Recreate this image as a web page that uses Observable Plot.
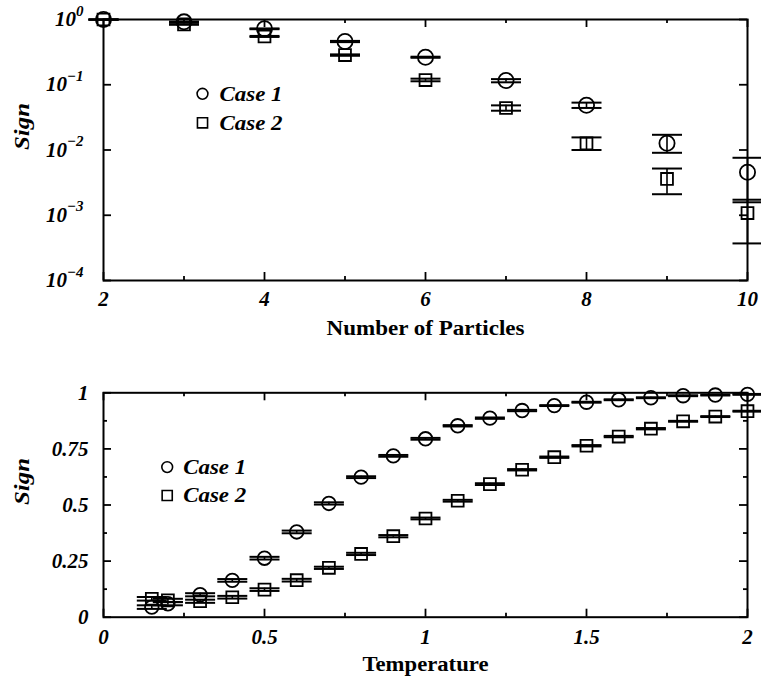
<!DOCTYPE html>
<html><head><meta charset="utf-8">
<script src="https://cdn.jsdelivr.net/npm/d3@7"></script>
<script src="https://cdn.jsdelivr.net/npm/@observablehq/plot@0.6"></script>
<style>
html,body{margin:0;padding:0;background:#fff;}
#wrap{width:761px;height:685px;overflow:hidden;background:#fff;}
#wrap svg{display:block;}
</style></head><body><div id="wrap"></div>
<script>
// ---------- Top chart data (Sign vs Number of Particles, log scale) ----------
const particles = [2, 3, 4, 5, 6, 7, 8, 9, 10];
const case1Sign = [1.0, 0.92, 0.72, 0.46, 0.264, 0.116, 0.0485, 0.0127, 0.00457];
const case1Lo   = [0.995, 0.91, 0.71, 0.45, 0.259, 0.109, 0.0441, 0.00906, 0.00158];
const case1Hi   = [1.0, 0.93, 0.73, 0.47, 0.269, 0.122, 0.0532, 0.0171, 0.0076];
const case2Sign = [1.0, 0.84, 0.55, 0.285, 0.118, 0.044, 0.0126, 0.0036, 0.00108];
const case2Lo   = [0.995, 0.83, 0.54, 0.278, 0.113, 0.040, 0.0100, 0.0021, 0.00037];
const case2Hi   = [1.0, 0.85, 0.56, 0.292, 0.124, 0.0483, 0.0156, 0.0052, 0.00173];
const topXTickLabels = [2, 4, 6, 8, 10];
const topXMinorTicks = [3, 5, 7, 9];
const topYTicks = [1e-4, 1e-3, 1e-2, 1e-1, 1];

// ---------- Bottom chart data (Sign vs Temperature) ----------
const temperature = [0.15, 0.2, 0.3, 0.4, 0.5, 0.6, 0.7, 0.8, 0.9, 1.0, 1.1, 1.2, 1.3, 1.4, 1.5, 1.6, 1.7, 1.8, 1.9, 2.0];
const tCase1Sign = [0.045, 0.06, 0.10, 0.164, 0.263, 0.38, 0.507, 0.624, 0.719, 0.795, 0.853, 0.887, 0.921, 0.943, 0.958, 0.969, 0.978, 0.987, 0.990, 0.993];
const tCase1Err  = [0.008, 0.007, 0.007, 0.006, 0.006, 0.006, 0.005, 0.004, 0.004, 0.004, 0.003, 0.003, 0.003, 0.002, 0.002, 0.002, 0.002, 0.002, 0.002, 0.002];
const tCase2Sign = [0.082, 0.075, 0.071, 0.089, 0.123, 0.165, 0.22, 0.282, 0.361, 0.44, 0.519, 0.593, 0.657, 0.713, 0.764, 0.805, 0.84, 0.873, 0.894, 0.918];
const tCase2Err  = [0.008, 0.007, 0.007, 0.006, 0.006, 0.006, 0.005, 0.005, 0.005, 0.004, 0.004, 0.004, 0.003, 0.003, 0.003, 0.003, 0.003, 0.002, 0.002, 0.002];
const botXTickLabels = [0, 0.5, 1, 1.5, 2];
const botXMinorTicks = [0.25, 0.75, 1.25, 1.75];
const botYTickLabels = [0, 0.25, 0.5, 0.75, 1];
const botYMinorTicks = [0.125, 0.375, 0.625, 0.875];

const seriesNames = ["Case 1", "Case 2"];

// ---------- helpers ----------
const W = 761;
const FONT = "'Liberation Serif', 'Times New Roman', serif";
const capSymbol = {draw(ctx) { ctx.moveTo(-15, 0); ctx.lineTo(15, 0); }};

function seriesMarks(rows, symbol, r) {
  return [
    Plot.ruleX(rows, {x: "x", y1: "lo", y2: "hi", stroke: "black", strokeWidth: 1.6}),
    Plot.dot(rows, {x: "x", y: "lo", symbol: capSymbol, stroke: "black", fill: "none", strokeWidth: 2}),
    Plot.dot(rows, {x: "x", y: "hi", symbol: capSymbol, stroke: "black", fill: "none", strokeWidth: 2}),
    Plot.dot(rows, {x: "x", y: "y", symbol, r, stroke: "black", fill: "none", strokeWidth: 1.8})
  ];
}

function frameTicks(FW, FH, xMajor, xMinor, yMajor, yMinor) {
  const L = 8, S = 4, sw = 1.8;
  const m = [];
  const addX = (arr, len) => {
    m.push(Plot.tickX(arr, {x: d => d, insetTop: FH - len, stroke: "black", strokeWidth: sw}));
    m.push(Plot.tickX(arr, {x: d => d, insetBottom: FH - len, stroke: "black", strokeWidth: sw}));
  };
  const addY = (arr, len) => {
    m.push(Plot.tickY(arr, {y: d => d, insetRight: FW - len, stroke: "black", strokeWidth: sw}));
    m.push(Plot.tickY(arr, {y: d => d, insetLeft: FW - len, stroke: "black", strokeWidth: sw}));
  };
  addX(xMajor, L); if (xMinor.length) addX(xMinor, S);
  addY(yMajor, L); if (yMinor.length) addY(yMinor, S);
  return m;
}

function legendMarks(circleDx, textDx, dy1, dy2) {
  return [
    Plot.dot([seriesNames[0]], {frameAnchor: "top-left", dx: circleDx, dy: dy1, symbol: "circle", r: 5.4, stroke: "black", fill: "none", strokeWidth: 1.6}),
    Plot.dot([seriesNames[1]], {frameAnchor: "top-left", dx: circleDx, dy: dy2, symbol: "square", r: 5.7, stroke: "black", fill: "none", strokeWidth: 1.6}),
    Plot.text([seriesNames[0]], {frameAnchor: "top-left", dx: textDx, dy: dy1, text: d => d, textAnchor: "start", lineAnchor: "middle", fontSize: 21, fontWeight: "bold", fontStyle: "italic"}),
    Plot.text([seriesNames[1]], {frameAnchor: "top-left", dx: textDx, dy: dy2, text: d => d, textAnchor: "start", lineAnchor: "middle", fontSize: 21, fontWeight: "bold", fontStyle: "italic"})
  ];
}

// stretch a few labels to the widths seen in the reference
const labelLengths = {"Number of Particles": 198, "Temperature": 126, "Case 1": 63, "Case 2": 63, "Sign": 47};
function stretchTexts(svg) {
  svg.querySelectorAll("text").forEach(t => {
    const s = t.textContent;
    if (labelLengths[s] !== undefined && t.children.length === 0) {
      t.setAttribute("textLength", labelLengths[s]);
      t.setAttribute("lengthAdjust", "spacingAndGlyphs");
    }
  });
}

const style = {fontFamily: FONT, fontSize: "21px", fontWeight: "bold", fontStyle: "italic", color: "black", background: "white"};

// ---------- top chart ----------
{
  const mL = 103, mR = 14, mT = 19, mB = 65, H = 345;
  const FW = W - mL - mR, FH = H - mT - mB;
  const rows1 = particles.map((n, i) => ({x: n, y: case1Sign[i], lo: case1Lo[i], hi: case1Hi[i]}));
  const rows2 = particles.map((n, i) => ({x: n, y: case2Sign[i], lo: case2Lo[i], hi: case2Hi[i]}));
  const svg = Plot.plot({
    width: W, height: H, marginLeft: mL, marginRight: mR, marginTop: mT, marginBottom: mB,
    x: {domain: [2, 10], axis: null},
    y: {type: "log", domain: [1e-4, 1], axis: null},
    style,
    marks: [
      ...frameTicks(FW, FH, topXTickLabels, topXMinorTicks, topYTicks, []),
      Plot.frame({stroke: "black", strokeWidth: 2}),
      Plot.axisX(topXTickLabels, {tickSize: 0, tickPadding: 11, tickFormat: d => String(d), label: null, fontSize: 21}),
      Plot.axisY(topYTicks, {tickSize: 0, tickPadding: 20, tickFormat: d => "E" + Math.round(Math.log10(d)), label: null, fontSize: 21}),
      ...seriesMarks(rows1, "circle", 7.6),
      ...seriesMarks(rows2, "square", 6.7),
      ...legendMarks(99, 116, 74.3, 103.3),
      Plot.text(["Number of Particles"], {frameAnchor: "bottom", dy: 48.3, text: d => d, lineAnchor: "middle", fontSize: 20, fontWeight: "bold", fontStyle: "normal"}),
      Plot.text(["Sign"], {frameAnchor: "left", dx: -81, text: d => d, rotate: -90, lineAnchor: "middle", fontSize: 20, fontWeight: "bold", fontStyle: "italic"})
    ]
  });
  const ns = "http://www.w3.org/2000/svg";
  svg.querySelectorAll("text").forEach(t => {
    const s = t.textContent;
    if (/^E-?\d+$/.test(s)) {
      const e = s.slice(1).replace("-", "\u2212");
      t.textContent = "";
      const a = document.createElementNS(ns, "tspan"); a.textContent = "10"; t.appendChild(a);
      const b = document.createElementNS(ns, "tspan");
      b.setAttribute("dy", "-0.7em"); b.setAttribute("font-size", "15px"); b.textContent = e;
      t.appendChild(b);
    }
  });
  stretchTexts(svg);
  document.getElementById("wrap").appendChild(svg);
}

// ---------- bottom chart ----------
{
  const mL = 103, mR = 14, mT = 47.3, mB = 68.3, H = 340;
  const FW = W - mL - mR, FH = H - mT - mB;
  const rows1 = temperature.map((t, i) => ({x: t, y: tCase1Sign[i], lo: tCase1Sign[i] - tCase1Err[i], hi: tCase1Sign[i] + tCase1Err[i]}));
  const rows2 = temperature.map((t, i) => ({x: t, y: tCase2Sign[i], lo: tCase2Sign[i] - tCase2Err[i], hi: tCase2Sign[i] + tCase2Err[i]}));
  const svg = Plot.plot({
    width: W, height: H, marginLeft: mL, marginRight: mR, marginTop: mT, marginBottom: mB,
    x: {domain: [0, 2], axis: null},
    y: {domain: [0, 1], axis: null},
    style,
    marks: [
      ...frameTicks(FW, FH, botXTickLabels, botXMinorTicks, botYTickLabels, botYMinorTicks),
      Plot.frame({stroke: "black", strokeWidth: 2}),
      Plot.axisX(botXTickLabels, {tickSize: 0, tickPadding: 11.4, tickFormat: d => String(d), label: null, fontSize: 21}),
      Plot.axisY(botYTickLabels, {tickSize: 0, tickPadding: 15, tickFormat: d => String(d), label: null, fontSize: 21}),
      ...seriesMarks(rows1, "circle", 6.8),
      ...seriesMarks(rows2, "square", 6.7),
      ...legendMarks(63.7, 79.7, 74.3, 102.7),
      Plot.text(["Temperature"], {frameAnchor: "bottom", dy: 47.6, text: d => d, lineAnchor: "middle", fontSize: 20, fontWeight: "bold", fontStyle: "normal"}),
      Plot.text(["Sign"], {frameAnchor: "left", dx: -81, text: d => d, rotate: -90, lineAnchor: "middle", fontSize: 20, fontWeight: "bold", fontStyle: "italic"})
    ]
  });
  stretchTexts(svg);
  document.getElementById("wrap").appendChild(svg);
}
</script>
</body></html>
